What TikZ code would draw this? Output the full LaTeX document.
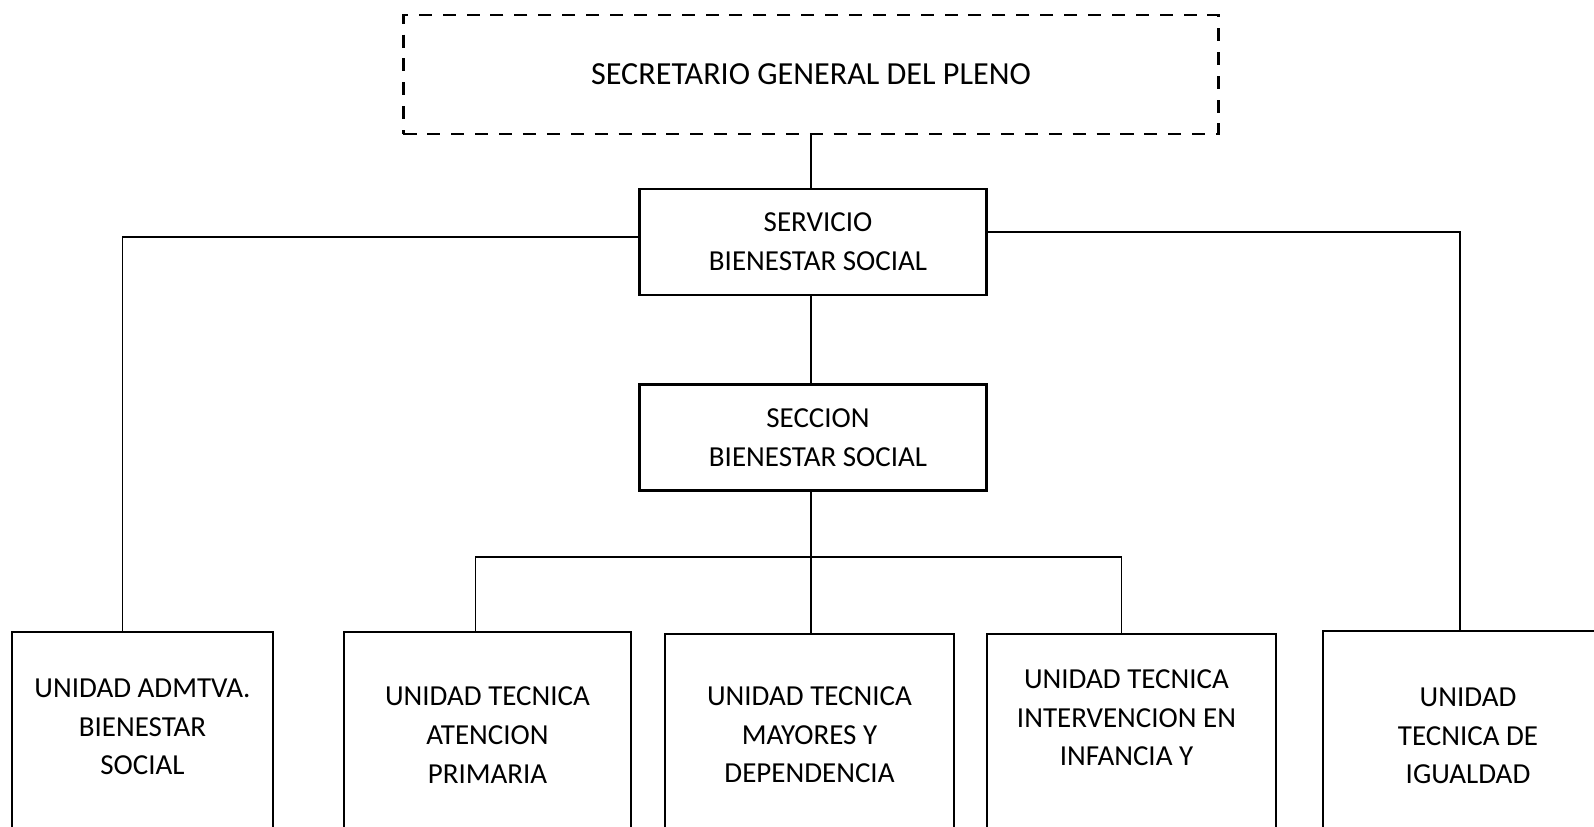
\documentclass[tikz,border=0pt]{standalone}
\usepackage{fontspec}
\setmainfont{Carlito}
\begin{document}
\begin{tikzpicture}[x=0.2mm, y=-0.2mm,
    box/.style = {draw, line width=1.2pt, minimum width=69.4mm, minimum height=21.2mm, align=center, font=\fontsize{16.5}{22}\selectfont},
    unit/.style = {draw, line width=1.2pt, minimum height=60mm, anchor=north},
    lbl/.style = {align=center, font=\fontsize{16.5}{22}\selectfont},
    link/.style = {line width=0.6pt}]
    \clip (0,0) rectangle (1594,827);
    \fill[white] (0,0) rectangle (1594,827);

    \node[box, line width=1.5pt, dash pattern=on 7.4pt off 6.2pt, minimum width=163mm, minimum height=23.8mm, font=\fontsize{18.3}{22}\selectfont] (sec) at (811,74.5) {SECRETARIO GENERAL DEL PLENO};
    \node[box] (serv) at (813,242) {\hspace*{2mm}SERVICIO\\\hspace*{2mm}BIENESTAR SOCIAL};
    \node[box] (secc) at (813,437.5) {\hspace*{2mm}SECCION\\\hspace*{2mm}BIENESTAR SOCIAL};

    \node[unit, minimum width=52.2mm] (u1) at (142.5,631) {};
    \node[unit, minimum width=57.4mm] (u2) at (487.5,631) {};
    \node[unit, minimum width=57.8mm] (u3) at (809.5,633) {};
    \node[unit, minimum width=57.8mm] (u4) at (1131.5,633) {};
    \node[unit, minimum width=58mm] (u5) at (1468,630) {};

    \node[lbl] (t1) at ([yshift=-19.2mm]u1.north) {UNIDAD ADMTVA.\\BIENESTAR\\SOCIAL};
    \node[lbl] (t2) at ([yshift=-20.8mm]u2.north) {UNIDAD TECNICA\\ATENCION\\PRIMARIA};
    \node[lbl] (t3) at ([yshift=-20.4mm]u3.north) {UNIDAD TECNICA\\MAYORES Y\\DEPENDENCIA};
    \node[lbl] (t4) at ([xshift=-1mm, yshift=-17mm]u4.north) {UNIDAD TECNICA\\INTERVENCION EN\\INFANCIA Y};
    \node[lbl] (t5) at ([yshift=-21.2mm]u5.north) {UNIDAD\\TECNICA DE\\IGUALDAD};

    \coordinate (bus) at (811,557);

    \draw[link] (sec.south) -- (sec.south |- serv.north);
    \draw[link] ([yshift=1mm]serv.west) -| ([xshift=-4mm]u1.north);
    \draw[line width=1.2pt] ([yshift=2mm]serv.east) -| ([xshift=-1.6mm]u5.north);
    \draw[link] (sec.south |- serv.south) -- (sec.south |- secc.north);
    \draw[link] (sec.south |- secc.south) -- (sec.south |- u3.north);
    \draw[link] ([xshift=-2.4mm]u2.north) |- (bus) -| ([xshift=-2mm]u4.north);
\end{tikzpicture}
\end{document}
